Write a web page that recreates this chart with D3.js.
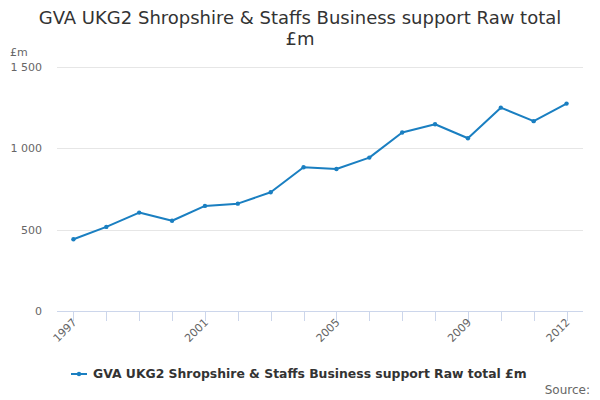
<!DOCTYPE html>
<html>
<head>
<meta charset="utf-8">
<script src="https://cdn.jsdelivr.net/npm/d3@7"></script>
<style>
  body { margin: 0; background: #fff; }
  svg { font-family: "DejaVu Sans", sans-serif; }
</style>
</head>
<body>
<svg id="chart" width="600" height="400"></svg>
<script>
var years = ["1997","1998","1999","2000","2001","2002","2003","2004","2005","2006","2007","2008","2009","2010","2011","2012"];
var values = [441, 517, 605, 555, 646, 660, 730, 884, 873, 943, 1097, 1148, 1062, 1250, 1167, 1275];
var yTicks = [0, 500, 1000, 1500];
var xLabels = ["1997", "2001", "2005", "2009", "2012"];
var seriesName = "GVA UKG2 Shropshire & Staffs Business support Raw total £m";

var svg = d3.select('#chart');
var plotLeft = 57, plotRight = 583, plotTop = 67, plotBottom = 311;
var lineColor = '#1a7fc1';

var x = d3.scalePoint()
    .domain(years)
    .range([plotLeft, plotRight])
    .padding(0.5);

var y = d3.scaleLinear()
    .domain([0, 1500])
    .range([plotBottom, plotTop]);

var fmt = function(d) {
    return d3.format(',')(d).replace(/,/g, ' ');
};

// Title
svg.append('text')
    .attr('x', 300)
    .attr('y', 24)
    .attr('text-anchor', 'middle')
    .style('font-size', '18px')
    .style('fill', '#333')
    .text('GVA UKG2 Shropshire & Staffs Business support Raw total');
svg.append('text')
    .attr('x', 300)
    .attr('y', 45)
    .attr('text-anchor', 'middle')
    .style('font-size', '18px')
    .style('fill', '#333')
    .text('£m');

// y unit
svg.append('text')
    .attr('x', 10)
    .attr('y', 56)
    .style('font-size', '11px')
    .style('fill', '#666')
    .text('£m');

// gridlines + y labels
yTicks.forEach(function(t) {
    if (t > 0) {
        svg.append('line')
            .attr('x1', plotLeft)
            .attr('x2', plotRight)
            .attr('y1', Math.round(y(t)) + 0.5)
            .attr('y2', Math.round(y(t)) + 0.5)
            .style('stroke', '#e6e6e6')
            .style('stroke-width', 1);
    }
    svg.append('text')
        .attr('x', 42)
        .attr('y', y(t) + 4)
        .attr('text-anchor', 'end')
        .style('font-size', '11px')
        .style('fill', '#666')
        .text(fmt(t));
});

// x axis line
svg.append('line')
    .attr('x1', plotLeft)
    .attr('x2', plotRight)
    .attr('y1', plotBottom + 0.5)
    .attr('y2', plotBottom + 0.5)
    .style('stroke', '#ccd6eb');

// ticks
years.forEach(function(yr) {
    svg.append('line')
        .attr('x1', Math.round(x(yr)) + 0.5)
        .attr('x2', Math.round(x(yr)) + 0.5)
        .attr('y1', plotBottom)
        .attr('y2', plotBottom + 10)
        .style('stroke', '#ccd6eb');
});

// x labels
xLabels.forEach(function(yr) {
    svg.append('text')
        .attr('transform', 'translate(' + (x(yr) + 4) + ',' + (plotBottom + 12) + ') rotate(-45)')
        .attr('text-anchor', 'end')
        .style('font-size', '11px')
        .style('fill', '#666')
        .text(yr);
});

// line
var line = d3.line()
    .x(function(d, i) { return x(years[i]); })
    .y(function(d) { return y(d); });

svg.append('path')
    .datum(values)
    .attr('d', line)
    .style('fill', 'none')
    .style('stroke', lineColor)
    .style('stroke-width', 2)
    .style('stroke-linejoin', 'round');

svg.selectAll('circle.pt')
    .data(values)
    .enter()
    .append('circle')
    .attr('class', 'pt')
    .attr('cx', function(d, i) { return x(years[i]); })
    .attr('cy', function(d) { return y(d); })
    .attr('r', 2.2)
    .style('fill', lineColor);

// legend
var legend = svg.append('g');
legend.append('line')
    .attr('x1', 71)
    .attr('x2', 87)
    .attr('y1', 374)
    .attr('y2', 374)
    .style('stroke', lineColor)
    .style('stroke-width', 2);
legend.append('circle')
    .attr('cx', 79)
    .attr('cy', 374)
    .attr('r', 2.2)
    .style('fill', lineColor);
legend.append('text')
    .attr('x', 93)
    .attr('y', 378)
    .style('font-size', '12.4px')
    .style('font-weight', 'bold')
    .style('fill', '#333')
    .text(seriesName);

// credits
svg.append('text')
    .attr('x', 590)
    .attr('y', 394)
    .attr('text-anchor', 'end')
    .style('font-size', '12px')
    .style('fill', '#666')
    .text('Source:');
</script>
</body>
</html>
